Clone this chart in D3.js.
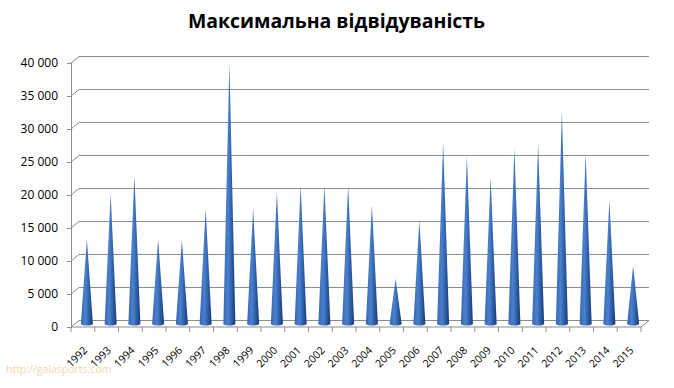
<!DOCTYPE html>
<html>
<head>
<meta charset="utf-8">
<style>
  body { margin: 0; background: #fff; }
  svg text { font-family: "Open Sans", "Noto Sans", sans-serif; }
</style>
</head>
<body>
<div id="chart"></div>
<script src="https://d3js.org/d3.v7.min.js"></script>
<script>
  // data
  const years = ["1992","1993","1994","1995","1996","1997","1998","1999","2000","2001","2002","2003",
                 "2004","2005","2006","2007","2008","2009","2010","2011","2012","2013","2014","2015"];
  const attendance = [12800, 19700, 22500, 12800, 12700, 17500, 39500, 17500, 20000, 21000, 21000, 21000,
                      18000, 6800, 15700, 27500, 25400, 22200, 26600, 27200, 32200, 25800, 18700, 8800];
  const yTicks = [0, 5000, 10000, 15000, 20000, 25000, 30000, 35000, 40000];

  const width = 674, height = 388;
  const depthX = 8, depthY = -6.5; // 3D offset from front to back plane

  const svg = d3.select("#chart").append("svg")
    .attr("width", width)
    .attr("height", height);

  // gradient for cones
  const grad = svg.append("defs").append("linearGradient")
    .attr("id", "cone").attr("x1", "0%").attr("x2", "100%");
  grad.append("stop").attr("offset", "0%").attr("stop-color", "#3669b6");
  grad.append("stop").attr("offset", "40%").attr("stop-color", "#4a80cc");
  grad.append("stop").attr("offset", "68%").attr("stop-color", "#2f60aa");
  grad.append("stop").attr("offset", "100%").attr("stop-color", "#1a3a70");

  const x = d3.scaleBand().domain(years).range([71, 641]).paddingInner(0).paddingOuter(0);
  const y = d3.scaleLinear().domain([0, 40000]).range([327, 63]);

  // title
  svg.append("text")
    .attr("x", 336.5).attr("y", 28)
    .attr("text-anchor", "middle")
    .attr("font-size", 19).attr("font-weight", "bold")
    .attr("textLength", 297).attr("lengthAdjust", "spacingAndGlyphs")
    .attr("fill", "#000")
    .text("Максимальна відвідуваність");

  // back wall gridlines
  const grid = svg.append("g").attr("stroke", "#8c8c8c").attr("fill", "none").attr("stroke-width", 1);
  grid.selectAll("path")
    .data(yTicks.slice(1))
    .join("path")
    .attr("d", d => `M${x.range()[0]},${y(d)}L${x.range()[0] + depthX},${y(d) + depthY}L${x.range()[1] + depthX},${y(d) + depthY}`);

  // floor
  const x0 = x.range()[0], x1 = x.range()[1], yb = y(0);
  svg.append("path")
    .attr("d", `M${x0},${yb}L${x1},${yb}L${x1 + depthX},${yb + depthY}L${x0 + depthX},${yb + depthY}Z`)
    .attr("fill", "#fff")
    .attr("stroke", "#8c8c8c");

  // y axis
  const fmt = d3.formatLocale({ decimal: ",", thousands: "\u00a0", grouping: [3], currency: ["", ""] }).format(",");
  const yAxis = d3.axisLeft(y)
    .tickValues(yTicks)
    .tickSize(4)
    .tickPadding(9)
    .tickFormat(d => fmt(d));
  const yg = svg.append("g")
    .attr("transform", `translate(${x0},0)`)
    .call(yAxis);
  yg.select(".domain").attr("stroke", "#8c8c8c");
  yg.selectAll(".tick line").attr("stroke", "#8c8c8c");
  yg.selectAll(".tick text")
    .attr("font-size", 12)
    .attr("fill", "#000")
    .style("font-family", "'Open Sans', sans-serif");

  // x axis boundary ticks
  const bounds = years.map(d => x(d)).concat([x1]);
  svg.append("g").attr("stroke", "#8c8c8c")
    .selectAll("line")
    .data(bounds)
    .join("line")
    .attr("x1", d => d).attr("x2", d => d)
    .attr("y1", yb).attr("y2", yb + 5);

  // cones (placed at mid depth)
  const bw = x.bandwidth();
  const baseR = 6;
  const cones = svg.append("g")
    .selectAll("g")
    .data(years.map((d, i) => ({ year: d, value: attendance[i] })))
    .join("g")
    .attr("transform", d => `translate(${x(d.year) + bw / 2 + depthX / 2},${depthY / 2})`);

  cones.append("ellipse")
    .attr("cx", 0).attr("cy", yb)
    .attr("rx", baseR).attr("ry", 1.8)
    .attr("fill", "url(#cone)");

  cones.append("path")
    .attr("d", d => `M${-baseR},${yb}L0,${y(d.value)}L${baseR},${yb}Z`)
    .attr("fill", "url(#cone)");

  // x labels
  svg.append("g")
    .selectAll("text")
    .data(years)
    .join("text")
    .attr("transform", d => `translate(${x(d) + bw / 2 + 5},351) rotate(-45)`)
    .attr("text-anchor", "end")
    .attr("font-size", 10.5)
    .attr("fill", "#000")
    .text(d => d);

  // watermark
  svg.append("text")
    .attr("x", 6).attr("y", 373)
    .attr("font-size", 10.5)
    .attr("fill", "#f9d6ae")
    .text("http://galasports.com");
</script>
</body>
</html>
